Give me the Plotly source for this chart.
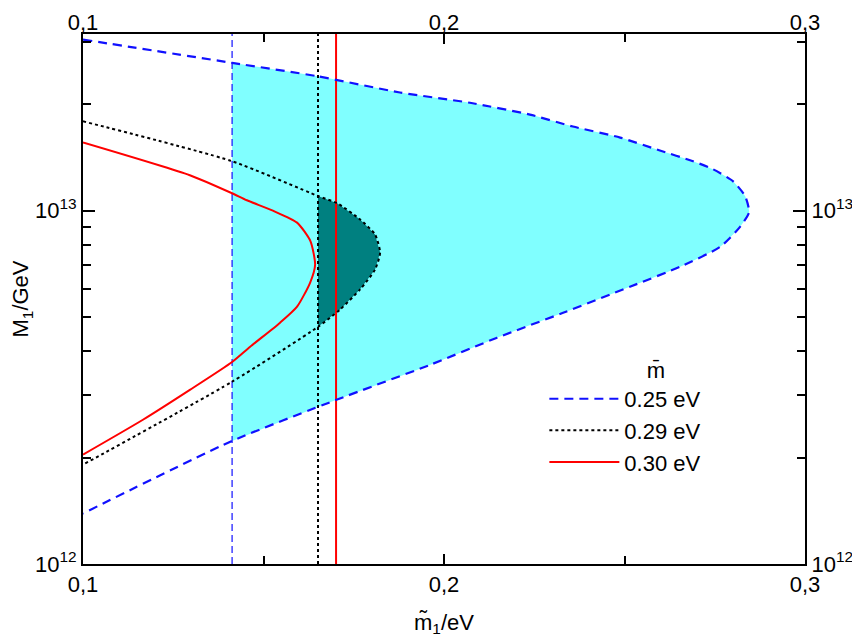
import numpy as np
import plotly.graph_objects as go

# ---- data ----
# m-bar = 0.25 eV boundary (upper branch -> tip -> lower branch)
blue_x = [0.1, 0.1413, 0.1651, 0.1878, 0.2072, 0.2238, 0.2357, 0.2488, 0.2598, 0.2690, 0.2745, 0.2801, 0.2834, 0.2845,
          0.2820, 0.2765, 0.2654, 0.2515, 0.2330, 0.2147, 0.1961, 0.1704, 0.1413, 0.1]
blue_y = [3.05e13, 2.62e13, 2.40e13, 2.16e13, 2.02e13, 1.87e13, 1.73e13, 1.61e13, 1.48e13, 1.38e13, 1.31e13, 1.21e13, 1.10e13, 9.9e12,
          9.0e12, 7.9e12, 6.94e12, 6.09e12, 5.14e12, 4.37e12, 3.66e12, 2.92e12, 2.23e12, 1.39e12]
# m-bar = 0.29 eV boundary
dot_x = [0.1, 0.1413, 0.1651, 0.1704, 0.1767, 0.1809, 0.1823, 0.1809, 0.1767, 0.1712, 0.1651, 0.1413, 0.1]
dot_y = [1.79e13, 1.38e13, 1.10e13, 1.05e13, 9.45e12, 8.56e12, 7.61e12, 6.81e12, 5.98e12, 5.25e12, 4.69e12, 3.28e12, 1.91e12]
# m-bar = 0.30 eV boundary
red_x = [0.1, 0.1296, 0.1413, 0.1454, 0.1526, 0.1593, 0.1630, 0.1643, 0.1629, 0.1593, 0.1546, 0.1463, 0.1413, 0.1296, 0.1166, 0.1]
red_y = [1.56e13, 1.26e13, 1.12e13, 1.07e13, 1.0e13, 9.25e12, 8.2e12, 7.03e12, 6.25e12, 5.35e12, 4.82e12, 4.12e12, 3.73e12, 3.11e12, 2.56e12, 2.04e12]
# vertical limits for each m-bar
cut_blue, cut_dot, cut_red = 0.1413, 0.1651, 0.1701

series_names = ["0.25 eV", "0.29 eV", "0.30 eV"]
x_ticks = [0.1, 0.2, 0.3]
x_ticktext = ["0,1", "0,2", "0,3"]
x_minor = [0.15, 0.25]
y_ticks = [1e12, 1e13]
y_ticktext = ["10<sup>12</sup>", "10<sup>13</sup>"]
y_minor = [2e12, 3e12, 4e12, 5e12, 6e12, 7e12, 8e12, 9e12, 2e13, 3e13]
x_range = [0.1, 0.3]
y_range_log = [12, 13.5]

BLUE = "#1010ff"
RED = "#ff0000"
CYAN = "#80ffff"
TEAL = "#008080"
FONT = "Liberation Sans, Arial, sans-serif"
FS = 22


def clip_right(xs, ys, cut):
    """Keep the part of the curve with x >= cut, interpolating crossings (log y)."""
    out_x, out_y = [], []
    ly = np.log10(ys)
    for i in range(len(xs)):
        if i > 0:
            x0, x1 = xs[i - 1], xs[i]
            if (x0 - cut) * (x1 - cut) < 0:
                t = (cut - x0) / (x1 - x0)
                out_x.append(cut)
                out_y.append(10 ** (ly[i - 1] + t * (ly[i] - ly[i - 1])))
        if xs[i] >= cut:
            out_x.append(xs[i])
            out_y.append(ys[i])
    return out_x, out_y


fig = go.Figure()

cx, cy = clip_right(blue_x, blue_y, cut_blue)
fig.add_trace(go.Scatter(x=cx, y=cy, fill="toself", fillcolor=CYAN, mode="none",
                         line=dict(shape="spline", smoothing=0.6),
                         showlegend=False, hoverinfo="skip"))
tx, ty = clip_right(dot_x, dot_y, cut_dot)
fig.add_trace(go.Scatter(x=tx, y=ty, fill="toself", fillcolor=TEAL, mode="none",
                         showlegend=False, hoverinfo="skip"))

yfull = [10 ** y_range_log[0], 10 ** y_range_log[1]]
fig.add_trace(go.Scatter(x=[cut_blue, cut_blue], y=yfull, mode="lines",
                         line=dict(color=BLUE, width=1.2, dash="7px,4px"), showlegend=False))
fig.add_trace(go.Scatter(x=[cut_dot, cut_dot], y=yfull, mode="lines",
                         line=dict(color="black", width=2, dash="dot"), showlegend=False))
fig.add_trace(go.Scatter(x=[cut_red, cut_red], y=yfull, mode="lines",
                         line=dict(color=RED, width=2), showlegend=False))

fig.add_trace(go.Scatter(x=blue_x, y=blue_y, mode="lines", name=series_names[0],
                         line=dict(color=BLUE, width=2.2, dash="9px,6px", shape="spline", smoothing=0.6)))
fig.add_trace(go.Scatter(x=dot_x, y=dot_y, mode="lines", name=series_names[1],
                         line=dict(color="black", width=2, dash="dot", shape="spline", smoothing=0.6)))
fig.add_trace(go.Scatter(x=red_x, y=red_y, mode="lines", name=series_names[2],
                         line=dict(color=RED, width=2, shape="spline", smoothing=0.6)))

# invisible trace for the top/right label axes
fig.add_trace(go.Scatter(x=[x_range[0]], y=[10 ** y_range_log[0]], xaxis="x2", yaxis="y2",
                         mode="markers", marker=dict(opacity=0), showlegend=False, hoverinfo="skip"))

axis_common = dict(showgrid=False, zeroline=False, showline=True, linecolor="black", linewidth=2,
                   ticks="inside", tickcolor="black", tickwidth=2, automargin=False,
                   tickfont=dict(family=FONT, size=FS, color="black"))
minor_common = dict(ticks="inside", ticklen=8, tickwidth=2, tickcolor="black")

# the page body adds an 8 px offset, so the figure is 8 px smaller and margins shifted
fig.update_layout(
    width=852, height=636,
    margin=dict(l=75, r=55, t=26, b=80),
    paper_bgcolor="white", plot_bgcolor="white",
    font=dict(family=FONT, size=FS, color="black"),
    xaxis=dict(range=x_range, tickvals=x_ticks, ticktext=x_ticktext, ticklen=10,
               minor=dict(tickvals=x_minor, **minor_common),
               title=dict(text="m\u0303<sub>1</sub>/eV", font=dict(size=FS), standoff=18),
               **axis_common),
    yaxis=dict(type="log", range=y_range_log, tickvals=y_ticks, ticktext=y_ticktext, ticklen=12,
               minor=dict(tickvals=y_minor, **minor_common),
               title=dict(text="M<sub>1</sub>/GeV", font=dict(size=FS), standoff=14),
               **axis_common),
    xaxis2=dict(overlaying="x", side="top", anchor="y2", range=x_range, tickvals=x_ticks,
                ticktext=x_ticktext, ticklen=10, ticklabelstandoff=-7,
                minor=dict(tickvals=x_minor, **minor_common),
                **axis_common),
    yaxis2=dict(overlaying="y", side="right", anchor="x2", type="log", range=y_range_log,
                tickvals=y_ticks, ticktext=y_ticktext, ticklen=12,
                minor=dict(tickvals=y_minor, **minor_common),
                **axis_common),
    legend=dict(x=0.639, y=0.405, xanchor="left", yanchor="top", bgcolor="rgba(0,0,0,0)",
                font=dict(family=FONT, size=FS), itemwidth=70, tracegroupgap=0,
                title=dict(text="\u00a0\u00a0\u00a0\u00a0\u00a0\u00a0\u00a0\u00a0\u00a0\u00a0m\u0304",
                           side="top center", font=dict(size=FS))),
    showlegend=True,
)

fig.write_html("out.html")
